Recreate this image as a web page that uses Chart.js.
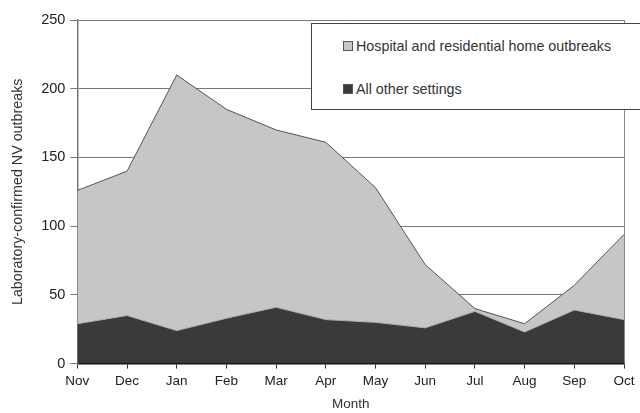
<!DOCTYPE html>
<html>
<head>
<meta charset="utf-8">
<script src="https://cdn.jsdelivr.net/npm/chart.js@4"></script>
<style>
  html, body { margin: 0; padding: 0; background: #fff; overflow: hidden; }
  #wrap { position: relative; width: 640px; height: 413px; }
  #legend {
    position: absolute; left: 311px; top: 23px; width: 340px; height: 87px;
    background: #fff; border: 1px solid #444; box-sizing: border-box;
    font-family: "Liberation Sans", Arial, sans-serif; font-size: 14.3px; color: #333;
  }
  #legend .item { position: absolute; left: 31px; white-space: nowrap; }
  #legend .sw { display: inline-block; width: 8px; height: 8px; border: 1px solid #555; margin-right: 3px; vertical-align: 0px; }
</style>
</head>
<body>
<div id="wrap">
  <canvas id="myChart" width="640" height="413"></canvas>
  <div id="legend">
    <div class="item" style="top:14px"><span class="sw" style="background:#c6c6c6"></span>Hospital and residential home outbreaks</div>
    <div class="item" style="top:57px"><span class="sw" style="background:#3a3a3a"></span>All other settings</div>
  </div>
</div>
<script>
var months = ['Nov', 'Dec', 'Jan', 'Feb', 'Mar', 'Apr', 'May', 'Jun', 'Jul', 'Aug', 'Sep', 'Oct'];
var otherSettings = [29, 35, 24, 33, 41, 32, 30, 26, 38, 23, 39, 32];
var hospitalHomes = [97, 105, 186, 152, 129, 129, 98, 46, 2, 6, 18, 62];
var yTicks = [0, 50, 100, 150, 200, 250];

var ctx = document.getElementById('myChart').getContext('2d');
var fontFam = 'Liberation Sans, Arial, sans-serif';

// right hand frame line of the plot area
var rightEdge = {
  id: 'rightEdge',
  afterDraw: function(chart) {
    var a = chart.chartArea, c = chart.ctx;
    c.save();
    c.strokeStyle = '#888';
    c.lineWidth = 1;
    c.beginPath();
    c.moveTo(Math.round(a.right) + 0.5, a.top);
    c.lineTo(Math.round(a.right) + 0.5, a.bottom);
    c.stroke();
    c.restore();
  }
};

new Chart(ctx, {
  type: 'line',
  data: {
    labels: months,
    datasets: [
      {
        label: 'All other settings',
        data: otherSettings,
        backgroundColor: '#3a3a3a',
        borderColor: '#b0b0b0',
        borderWidth: 1,
        fill: 'origin',
        pointRadius: 0,
        tension: 0
      },
      {
        label: 'Hospital and residential home outbreaks',
        data: hospitalHomes,
        backgroundColor: '#c6c6c6',
        borderColor: '#555555',
        borderWidth: 1,
        fill: '-1',
        pointRadius: 0,
        tension: 0
      }
    ]
  },
  options: {
    responsive: false,
    animation: false,
    layout: { padding: { top: 20, right: 16, left: 9, bottom: 1 } },
    plugins: {
      legend: { display: false },
      tooltip: { enabled: false }
    },
    scales: {
      x: {
        offset: false,
        grid: { display: true, drawOnChartArea: false, drawTicks: true, tickLength: 5, color: '#333' },
        border: { color: '#111', width: 1.5 },
        ticks: { color: '#222', font: { family: fontFam, size: 13.5 }, padding: 5, maxRotation: 0 },
        title: { display: true, text: 'Month', color: '#333', font: { family: fontFam, size: 13.5 }, padding: { top: 1, bottom: 0 } }
      },
      y: {
        stacked: true,
        min: 0,
        max: 250,
        afterBuildTicks: function(axis) { axis.ticks = yTicks.map(function(v) { return { value: v }; }); },
        grid: { color: '#777', tickLength: 7, lineWidth: 1 },
        border: { color: '#777', width: 1.5 },
        ticks: { color: '#222', font: { family: fontFam, size: 14.5 }, padding: 5 },
        title: { display: true, text: 'Laboratory-confirmed NV outbreaks', color: '#333', font: { family: fontFam, size: 14.3 }, padding: { top: 0, bottom: 10 } }
      }
    }
  },
  plugins: [rightEdge]
});
</script>
</body>
</html>
